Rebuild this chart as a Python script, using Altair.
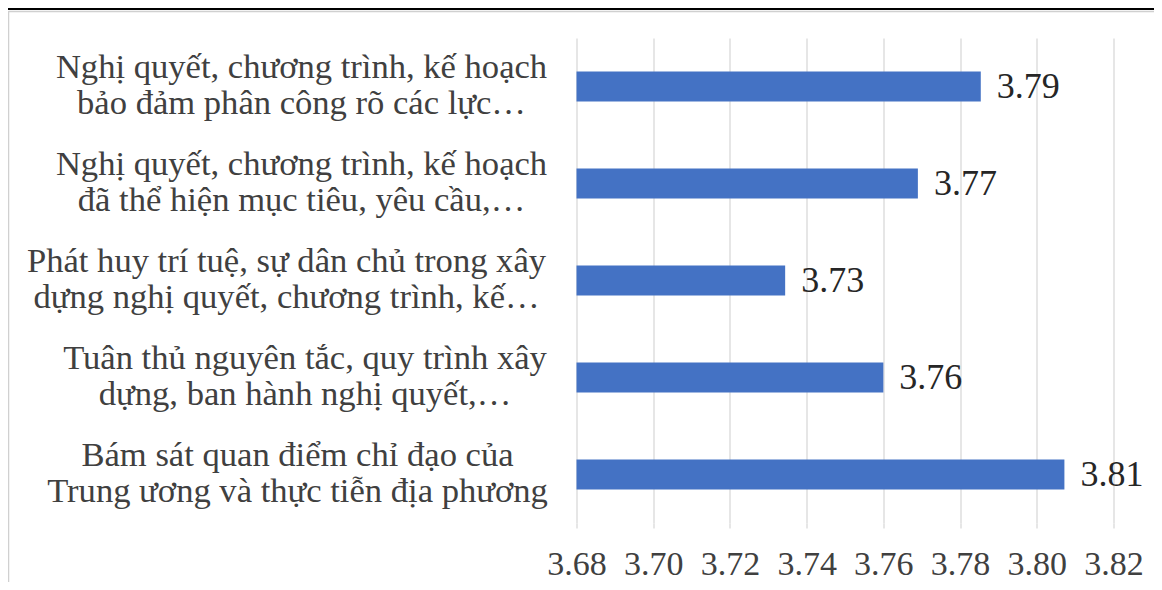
import altair as alt
import pandas as pd

categories = [
    "Nghị quyết, chương trình, kế hoạch|bảo đảm phân công rõ các lực…",
    "Nghị quyết, chương trình, kế hoạch|đã thể hiện mục tiêu, yêu cầu,…",
    "Phát huy trí tuệ, sự dân chủ trong xây|dựng nghị quyết, chương trình, kế…",
    "Tuân thủ nguyên tắc, quy trình xây|dựng, ban hành nghị quyết,…",
    "Bám sát quan điểm chỉ đạo của|Trung ương và thực tiễn địa phương",
]
values = [3.7854, 3.7690, 3.7344, 3.7600, 3.8072]
x_ticks = [3.68, 3.70, 3.72, 3.74, 3.76, 3.78, 3.80, 3.82]
x_min, x_max = 3.68, 3.82

FONT = "Liberation Serif, Times New Roman, serif"
df = pd.DataFrame({"cat": categories, "val": values})

# Excel centres the lines of each wrapped category label; the block's
# widest line ends ~30px left of the plot, so pad each block by half its width.
label_pad = [275.5, 275.5, 290.5, 272.0, 279.5]
pad_cond = {
    "condition": [
        {"test": "datum.value === " + repr(c), "value": p}
        for c, p in zip(categories, label_pad)
    ],
    "value": 280,
}

x_enc = alt.X(
    "val:Q",
    scale=alt.Scale(domain=[x_min, x_max], zero=False, nice=False),
    axis=alt.Axis(
        values=x_ticks, format=".2f", title=None, domain=False,
        grid=True, gridColor="#d9d9d9", gridWidth=1.3,
        ticks=True, tickColor="#d9d9d9", tickSize=5, tickWidth=1.3,
        labelFont=FONT, labelFontSize=34, labelColor="#404040",
        labelBaseline="alphabetic", labelPadding=46, labelFlush=False,
    ),
)
y_enc = alt.Y(
    "cat:N", sort=categories,
    scale=alt.Scale(paddingInner=0.69, paddingOuter=0.345),
    axis=alt.Axis(
        title=None, domain=False, ticks=False, grid=False,
        labelExpr="split(datum.value, '|')",
        labelFont=FONT, labelFontSize=34.6, labelColor="#404040",
        labelLineHeight=36, labelPadding=pad_cond, labelAlign="center",
        labelBaseline="middle", labelLimit=0, labelOffset=-18.5,
    ),
)

bars = alt.Chart(df).mark_bar(color="#4472C4").encode(
    x=x_enc, x2=alt.datum(x_min), y=y_enc
)
texts = alt.Chart(df).mark_text(
    align="left", baseline="middle", dx=16, font=FONT, fontSize=36, color="#262626"
).encode(x="val:Q", y=alt.Y("cat:N", sort=categories), text=alt.Text("val:Q", format=".2f"))

deco = pd.DataFrame({"k": [0]})
top_black = alt.Chart(deco).mark_rule(color="#000000", strokeWidth=2).encode(
    x=alt.value(-568.5), x2=alt.value(577.5), y=alt.value(-29)
)
top_grey = alt.Chart(deco).mark_rule(color="#d0d0d0", strokeWidth=1.5).encode(
    x=alt.value(-568), x2=alt.value(577.5), y=alt.value(-26.5)
)
left_grey = alt.Chart(deco).mark_rule(color="#d0d0d0", strokeWidth=1.5).encode(
    x=alt.value(-568), y=alt.value(-27), y2=alt.value(544)
)

chart = alt.layer(top_black, top_grey, left_grey, bars, texts).properties(
    width=537, height=485,
    autosize=alt.AutoSizeParams(type="none"),
    padding={"left": 568.5, "top": 30, "right": 40.5, "bottom": 59},
    background="white",
).configure_view(stroke=None)

chart.save("out.html", embed_options={"renderer": "svg", "actions": False})
